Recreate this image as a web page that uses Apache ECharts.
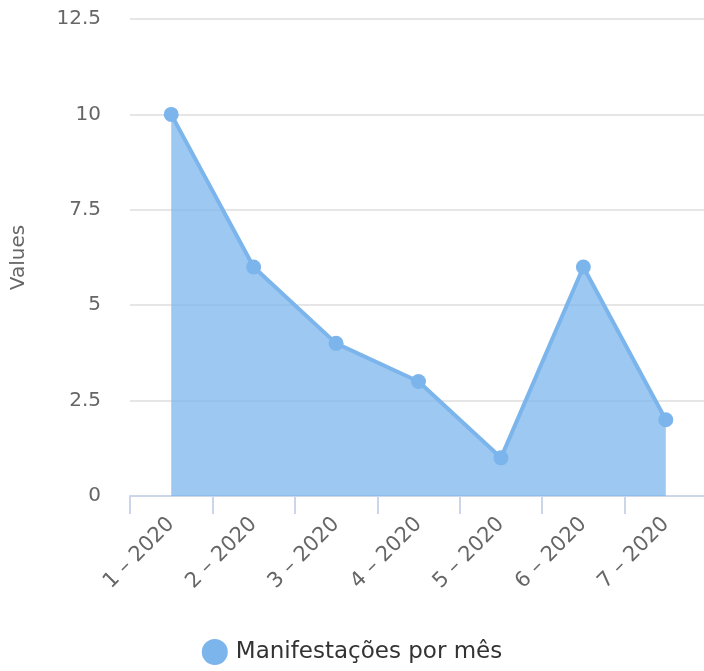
<!DOCTYPE html>
<html><head><meta charset="utf-8">
<script src="https://cdn.jsdelivr.net/npm/echarts@6/dist/echarts.min.js"></script>
<style>html,body{margin:0;padding:0;background:#fff}#c{width:704px;height:671px}</style>
</head><body><div id="c"></div>
<script>
const categories = ['1 – 2020','2 – 2020','3 – 2020','4 – 2020','5 – 2020','6 – 2020','7 – 2020'];
const values = [10, 6, 4, 3, 1, 6, 2];
const seriesName = 'Manifestações por mês';
const yTicks = {min: 0, max: 12.5, interval: 2.5};

const chart = echarts.init(document.getElementById('c'));
chart.setOption({
  animation: false,
  textStyle: {fontFamily: 'DejaVu Sans'},
  grid: {left: 130, top: 19, width: 577, height: 477, containLabel: false, outerBoundsMode: 'none'},
  legend: {
    bottom: 1, left: 'center', itemWidth: 26, itemHeight: 26, itemGap: 10, icon: 'circle',
    textStyle: {fontSize: 23, color: '#333', fontFamily: 'DejaVu Sans', padding: [0, 0, 0, 3]},
    data: [seriesName]
  },
  xAxis: {
    type: 'category', data: categories, boundaryGap: true,
    axisLine: {lineStyle: {color: '#ccd6eb', width: 2}},
    axisTick: {show: true, length: 18, lineStyle: {color: '#ccd6eb', width: 2}},
    axisLabel: {rotate: 45, color: '#666', fontSize: 21, margin: 25, fontFamily: 'DejaVu Sans'}
  },
  yAxis: {
    type: 'value', min: yTicks.min, max: yTicks.max, interval: yTicks.interval,
    name: 'Values', nameLocation: 'middle', nameGap: 101, nameRotate: 90,
    nameTextStyle: {color: '#666', fontSize: 20, fontFamily: 'DejaVu Sans'},
    axisLabel: {color: '#666', fontSize: 20, margin: 29, fontFamily: 'DejaVu Sans'},
    splitLine: {lineStyle: {color: '#e6e6e6', width: 2}},
    axisLine: {show: false}, axisTick: {show: false}
  },
  series: [{
    name: seriesName, type: 'line', data: values,
    symbol: 'circle', symbolSize: 15,
    itemStyle: {color: '#7cb5ec'},
    lineStyle: {color: '#7cb5ec', width: 4},
    areaStyle: {color: '#7cb5ec', opacity: 0.75}
  }]
});
</script></body></html>
